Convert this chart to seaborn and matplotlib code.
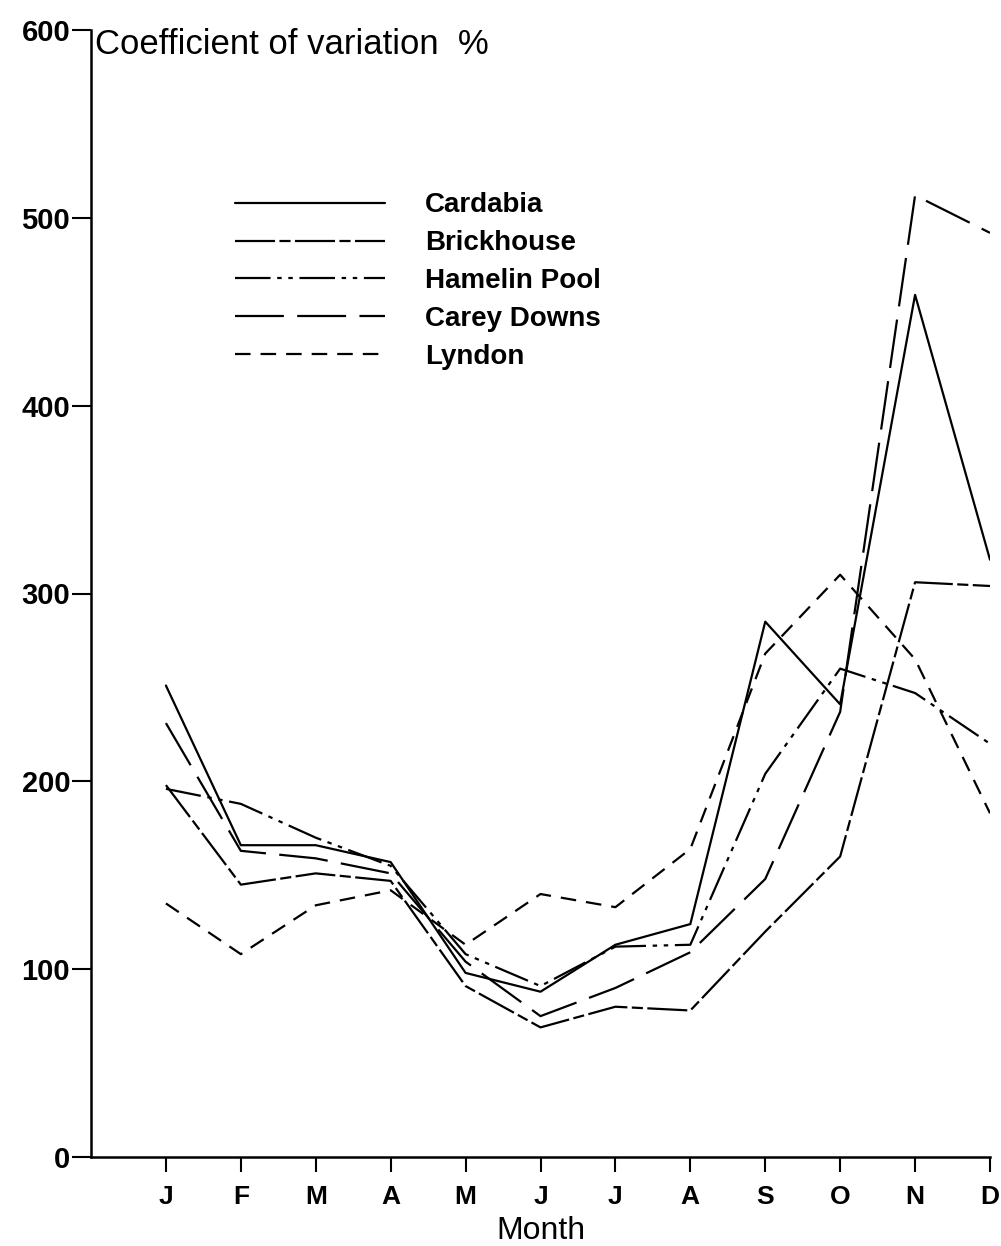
import matplotlib
matplotlib.use("Agg")
import matplotlib.pyplot as plt
import seaborn as sns
import pandas as pd

# Monthly coefficient of variation of rainfall (%) for five stations
months = ["J", "F", "M", "A", "M", "J", "J", "A", "S", "O", "N", "D"]
stations = ["Cardabia", "Brickhouse", "Hamelin Pool", "Carey Downs", "Lyndon"]
cardabia = [251, 166, 166, 157, 98, 88, 113, 124, 285, 241, 459, 318]
brickhouse = [198, 145, 151, 147, 91, 69, 80, 78, 120, 160, 306, 304]
hamelin_pool = [196, 188, 170, 155, 108, 91, 112, 113, 204, 260, 247, 220]
carey_downs = [231, 163, 159, 151, 104, 75, 90, 109, 148, 237, 512, 492]
lyndon = [135, 108, 134, 142, 113, 140, 133, 164, 268, 310, 265, 183]
y_ticks = [0, 100, 200, 300, 400, 500, 600]

series = [cardabia, brickhouse, hamelin_pool, carey_downs, lyndon]
rows = []
for name, vals in zip(stations, series):
    for i, v in enumerate(vals):
        rows.append({"pos": i + 1, "cv": v, "station": name})
df = pd.DataFrame(rows)

sns.set_style("ticks")
plt.rcParams["font.family"] = ["Liberation Sans", "DejaVu Sans"]
plt.rcParams["text.color"] = "black"

dash_styles = {
    "Cardabia": "",
    "Brickhouse": (18, 2, 5, 2),
    "Hamelin Pool": (16, 3, 2, 3, 2, 3),
    "Carey Downs": (22, 6),
    "Lyndon": (7, 4.5),
}

fig = plt.figure(figsize=(10.01, 12.46), dpi=100)
ax = fig.add_axes([91 / 1001, 1 - 1157 / 1246, 899 / 1001, 1127 / 1246])

sns.lineplot(data=df, x="pos", y="cv", style="station", style_order=stations,
             dashes=dash_styles, color="black", linewidth=1.6, sort=False,
             ax=ax, legend=True)

ax.set_xlim(0, 12)
ax.set_ylim(0, 600)
ax.set_xticks(range(1, 13))
ax.set_xticklabels(months, fontsize=19, fontweight="bold", color="black")
ax.set_yticks(y_ticks)
ax.set_yticklabels([str(t) for t in y_ticks], fontsize=21, fontweight="bold",
                   color="black")
ax.tick_params(axis="x", direction="out", length=11, width=1.5, pad=9, colors="black")
ax.tick_params(axis="y", direction="out", length=14, width=1.5, pad=1, colors="black")
for side in ("top", "right"):
    ax.spines[side].set_visible(False)
for side in ("left", "bottom"):
    ax.spines[side].set_linewidth(1.8)
    ax.spines[side].set_color("black")

ax.set_xlabel("Month", fontsize=23, labelpad=5, color="black")
ax.set_ylabel("")
ax.text(0.004, 601, "Coefficient of variation  %", transform=ax.get_yaxis_transform(),
        fontsize=25, va="top", ha="left", color="black")

handles, labels = ax.get_legend_handles_labels()
leg = ax.legend(handles, labels, loc="upper left", bbox_to_anchor=(0.16, 0.856),
                frameon=False, fontsize=20, handlelength=5.4, handletextpad=1.45,
                labelspacing=0.43, borderpad=0, borderaxespad=0)
for t in leg.get_texts():
    t.set_fontweight("bold")
    t.set_color("black")
for h in leg.get_lines():
    h.set_linewidth(1.6)
    h.set_color("black")

fig.savefig("out.png", dpi=100)
